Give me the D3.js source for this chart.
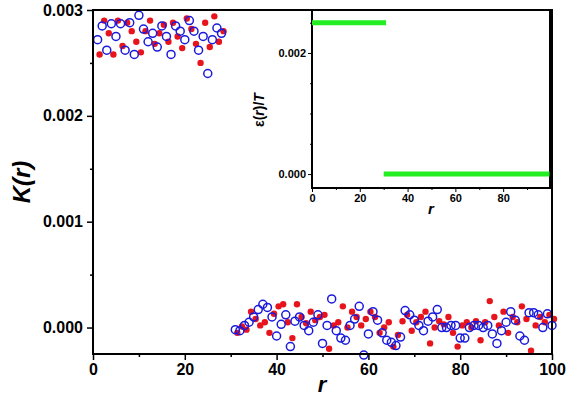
<!DOCTYPE html><html><head><meta charset="utf-8"><script src="https://cdn.jsdelivr.net/npm/d3@7"></script>
<style>body{margin:0;background:#fff}text{font-family:Arial,"Liberation Sans",sans-serif;font-weight:bold}</style></head><body>
<svg id="c" width="569" height="410"></svg>
<script>
const rBlue=[1,2,3,4,5,6,7,8,9,10,11,12,13,14,15,16,17,18,19,20,21,22,23,24,25,26,27,28,31,32,33,34,35,36,37,38,39,40,41,42,43,44,45,46,47,48,49,50,51,52,53,54,55,56,57,58,59,60,61,62,63,64,65,66,67,68,69,70,71,72,73,74,75,76,77,78,79,80,81,82,83,84,85,86,87,88,89,90,91,92,93,94,95,96,97,98,99,100];
const kBlue=[2.72,2.85,2.62,2.87,2.75,2.87,2.62,2.88,2.58,2.95,2.82,2.70,2.78,2.65,2.85,2.75,2.58,2.85,2.80,2.72,2.90,2.80,2.62,2.75,2.40,2.72,2.83,2.78,
-0.02,-0.03,0.02,0.05,0.10,0.17,0.22,0.19,0.10,-0.08,0.03,0.12,-0.18,0.06,0.10,0.02,-0.03,0.05,0.12,-0.15,0.02,0.27,-0.03,-0.10,-0.12,0.02,0.08,0.20,-0.26,-0.06,0.15,0.07,-0.05,-0.12,-0.14,-0.17,-0.09,0.16,0.12,0.07,0.02,-0.03,0.06,0.10,0.17,0.00,0.00,0.02,0.02,-0.10,-0.10,0.00,0.02,0.02,0.00,0.02,-0.06,-0.15,-0.03,0.05,0.15,0.07,-0.08,-0.12,0.14,0.14,0.12,0.00,0.13,0.02];
const rRed=[1,2,3,4,5,6,7,8,9,10,11,12,13,14,15,16,17,18,19,20,21,22,23,24,25,26,27,28,31,32,33,34,35,36,37,38,39,40,41,42,43,44,45,46,47,48,49,50,51,52,53,54,55,56,57,58,59,60,61,62,63,64,65,66,67,68,69,70,71,72,73,74,75,76,77,78,79,80,81,82,83,84,85,86,87,88,89,90,91,92,93,94,95,96,97,98,99,100];
const kRed=[2.58,2.90,2.78,2.58,2.90,2.66,2.88,2.80,2.70,2.60,2.80,2.90,2.68,2.78,2.86,2.70,2.88,2.75,2.64,2.92,2.82,2.68,2.50,2.88,2.65,2.94,2.70,2.80,
-0.05,0.01,-0.02,0.15,0.08,0.02,0.05,-0.05,0.13,0.20,0.22,0.05,-0.10,0.22,0.10,0.04,0.15,0.07,0.10,0.12,-0.20,0.02,0.05,0.20,0.00,0.15,0.10,0.02,0.08,0.15,0.10,-0.05,0.00,0.05,-0.18,-0.07,0.06,0.12,-0.03,0.05,0.10,0.15,-0.15,0.00,0.06,0.03,0.10,-0.05,-0.18,0.02,0.05,0.00,0.06,-0.12,0.05,0.25,0.10,0.02,0.15,-0.05,0.10,0.05,0.20,0.08,-0.22,0.02,0.10,0.05,0.12,0.08];
const xTicks=[0,20,40,60,80,100];
const yTicks=[0,0.001,0.002,0.003];
const epsSegments=[{x0:0,x1:31,y:0.0025},{x0:30,x1:99.4,y:0}];
const insetXTicks=[0,20,40,60,80];
const insetYTicks=[0,0.002];

const svg=d3.select("#c");
const x=d3.scaleLinear().domain([0,100]).range([93,552]);
const y=d3.scaleLinear().domain([-0.00025,0.003]).range([354,10]);
const g=svg.append("g");
g.selectAll(".r").data(rRed.map((r,i)=>[r,kRed[i]/1000])).join("circle").attr("cx",d=>x(d[0])+2).attr("cy",d=>y(d[1])).attr("r",3.2).attr("fill","#e8141c");
g.selectAll(".b").data(rBlue.map((r,i)=>[r,kBlue[i]/1000])).join("circle").attr("cx",d=>x(d[0])).attr("cy",d=>y(d[1])).attr("r",4).attr("fill","none").attr("stroke","#1a1adc").attr("stroke-width",1.5);
svg.append("rect").attr("x",93).attr("y",10).attr("width",459).attr("height",344).attr("fill","none").attr("stroke","#000").attr("stroke-width",2);
svg.append("g").attr("transform","translate(0,354)").call(d3.axisBottom(x).tickValues(xTicks).tickSize(6).tickPadding(4));
svg.append("g").attr("transform","translate(0,354)").call(d3.axisBottom(x).tickValues(d3.range(10,100,20)).tickSize(3).tickFormat(""));
svg.append("g").attr("transform","translate(93,0)").call(d3.axisLeft(y).tickValues(yTicks).tickFormat(d3.format(".3f")).tickSize(6).tickPadding(4));
svg.append("g").attr("transform","translate(93,0)").call(d3.axisLeft(y).tickValues([0.0005,0.0015,0.0025]).tickSize(3).tickFormat(""));
svg.selectAll(".domain").remove();
svg.selectAll(".tick line").attr("stroke","#000").attr("stroke-width",1.5);
svg.selectAll(".tick text").attr("font-size",16).attr("fill","#000");
svg.append("text").attr("x",322).attr("y",392).attr("text-anchor","middle").attr("font-size",22).attr("font-style","italic").text("r");
svg.append("text").attr("transform","translate(30,182) rotate(-90)").attr("text-anchor","middle").attr("font-size",24).attr("font-style","italic").text("K(r)");
const ix=d3.scaleLinear().domain([0,99.6]).range([312,550]);
const iy=d3.scaleLinear().domain([-0.00023,0.00271]).range([188,10]);
const ig=svg.append("g");
ig.append("rect").attr("x",312).attr("y",10).attr("width",238).attr("height",178).attr("fill","#fff").attr("stroke","#000").attr("stroke-width",2);
ig.selectAll(".seg").data(epsSegments).join("line").attr("x1",d=>ix(d.x0)).attr("x2",d=>ix(d.x1)).attr("y1",d=>iy(d.y)).attr("y2",d=>iy(d.y)).attr("stroke","#22ee22").attr("stroke-width",5);
ig.append("g").attr("transform","translate(0,188)").call(d3.axisBottom(ix).tickValues(insetXTicks).tickSize(4).tickPadding(2));
ig.append("g").attr("transform","translate(0,188)").call(d3.axisBottom(ix).tickValues(d3.range(10,100,20)).tickSize(2).tickFormat(""));
ig.append("g").attr("transform","translate(312,0)").call(d3.axisLeft(iy).tickValues(insetYTicks).tickFormat(d3.format(".3f")).tickSize(4).tickPadding(2));
ig.append("g").attr("transform","translate(312,0)").call(d3.axisLeft(iy).tickValues([0.0005,0.001,0.0015,0.0025]).tickSize(2).tickFormat(""));
ig.selectAll(".domain").remove();
ig.selectAll(".tick line").attr("stroke","#000").attr("stroke-width",1);
ig.selectAll(".tick text").attr("font-size",11).attr("fill","#000");
ig.append("text").attr("x",431).attr("y",214).attr("text-anchor","middle").attr("font-size",15).attr("font-style","italic").text("r");
ig.append("text").attr("transform","translate(264,110) rotate(-90)").attr("text-anchor","middle").attr("font-size",14).html('ε(<tspan font-style="italic">r</tspan>)/<tspan font-style="italic">T</tspan>');
</script></body></html>
